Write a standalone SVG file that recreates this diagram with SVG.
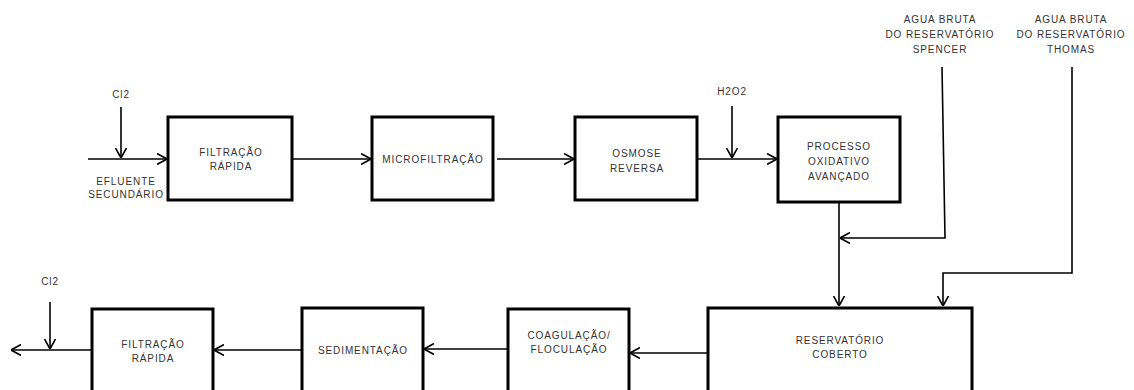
<svg xmlns="http://www.w3.org/2000/svg" width="1134" height="390" viewBox="0 0 1134 390">
<style>
.box{fill:#fff;stroke:#000;stroke-width:3}
.ln{fill:none;stroke:#000;stroke-width:1.6}
text{font-family:"Liberation Sans",Arial,sans-serif;font-size:10px;fill:#333;text-anchor:middle;letter-spacing:0.9px}
</style>
<defs>
<marker id="ah" viewBox="0 0 10 12" refX="10" refY="6" markerWidth="10" markerHeight="12" markerUnits="userSpaceOnUse" orient="auto">
<path d="M0,0.5 L10,6 L0,11.5" fill="none" stroke="#000" stroke-width="1.6"/>
</marker>
</defs>
<rect width="1134" height="390" fill="#fff"/>
<g id="connectors">
<path class="ln" d="M88,159 H167" marker-end="url(#ah)"/>
<path class="ln" d="M121,107 V158" marker-end="url(#ah)"/>
<path class="ln" d="M293,159 H371" marker-end="url(#ah)"/>
<path class="ln" d="M497,159 H574" marker-end="url(#ah)"/>
<path class="ln" d="M698,159 H777" marker-end="url(#ah)"/>
<path class="ln" d="M732,106 V158" marker-end="url(#ah)"/>
<path class="ln" d="M942,67 L945,238 H840" marker-end="url(#ah)"/>
<path class="ln" d="M839,203 V306" marker-end="url(#ah)"/>
<path class="ln" d="M1072,67 V273 H943 V306" marker-end="url(#ah)"/>
<path class="ln" d="M707,353 H630" marker-end="url(#ah)"/>
<path class="ln" d="M507,349 H424" marker-end="url(#ah)"/>
<path class="ln" d="M301,350 H214" marker-end="url(#ah)"/>
<path class="ln" d="M91,350 H11" marker-end="url(#ah)"/>
<path class="ln" d="M50,302 V349" marker-end="url(#ah)"/>
</g>
<g id="labels">
<text x="121" y="98">Cl2</text>
<text x="126" y="185">EFLUENTE</text>
<text x="126" y="198">SECUNDÁRIO</text>
<text x="732" y="95">H2O2</text>
<text x="940" y="23">AGUA BRUTA</text>
<text x="940" y="38">DO RESERVATÓRIO</text>
<text x="940" y="53">SPENCER</text>
<text x="1071" y="23">AGUA BRUTA</text>
<text x="1071" y="38">DO RESERVATÓRIO</text>
<text x="1071" y="53">THOMAS</text>
<text x="50" y="285">Cl2</text>
</g>
<g id="n1"><rect class="box" x="168" y="117" width="124" height="83"/><text x="231" y="156">FILTRAÇÃO</text><text x="231" y="170">RÁPIDA</text></g>
<g id="n2"><rect class="box" x="372" y="117" width="121" height="83"/><text x="433" y="163">MICROFILTRAÇÃO</text></g>
<g id="n3"><rect class="box" x="575" y="117" width="122" height="83"/><text x="637" y="157">OSMOSE</text><text x="637" y="172">REVERSA</text></g>
<g id="n4"><rect class="box" x="778" y="117" width="122" height="85"/><text x="839" y="150">PROCESSO</text><text x="839" y="165">OXIDATIVO</text><text x="839" y="180">AVANÇADO</text></g>
<g id="n5"><rect class="box" x="708" y="308" width="264" height="100"/><text x="840" y="344">RESERVATÓRIO</text><text x="840" y="358">COBERTO</text></g>
<g id="n6"><rect class="box" x="508" y="309" width="121" height="100"/><text x="569" y="339">COAGULAÇÃO/</text><text x="569" y="353">FLOCULAÇÃO</text></g>
<g id="n7"><rect class="box" x="302" y="308" width="121" height="100"/><text x="363" y="354">SEDIMENTAÇÃO</text></g>
<g id="n8"><rect class="box" x="92" y="309" width="121" height="100"/><text x="153" y="348">FILTRAÇÃO</text><text x="153" y="362">RÁPIDA</text></g>
</svg>
